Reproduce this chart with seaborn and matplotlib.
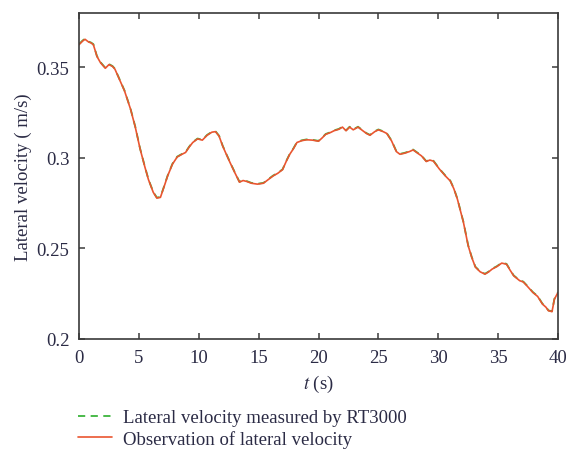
import matplotlib
matplotlib.use("Agg")
import matplotlib.pyplot as plt
import seaborn as sns
import pandas as pd

# Time stamps (s)
t = [0.0, 0.3, 0.5, 0.8, 1.0, 1.2, 1.5, 1.8, 2.2, 2.5, 2.8, 3.0, 3.4, 3.8, 4.3,
     4.7, 5.1, 5.5, 5.8, 6.2, 6.5, 6.8, 7.1, 7.4, 7.8, 8.2, 8.6, 8.9, 9.2, 9.5,
     9.9, 10.3, 10.7, 11.1, 11.4, 11.7, 12.0, 12.3, 12.6, 13.0, 13.4, 13.7, 14.0,
     14.4, 14.9, 15.4, 15.8, 16.2, 16.6, 17.0, 17.3, 17.6, 17.9, 18.2, 18.6, 19.0,
     19.5, 20.0, 20.3, 20.6, 21.0, 21.3, 21.7, 22.0, 22.3, 22.6, 22.9, 23.3, 23.7,
     24.0, 24.3, 24.7, 25.0, 25.4, 25.7, 26.1, 26.5, 26.8, 27.2, 27.6, 27.9, 28.3,
     28.6, 29.0, 29.3, 29.6, 30.1, 30.6, 31.0, 31.3, 31.6, 32.1, 32.5, 32.8, 33.1,
     33.5, 33.9, 34.2, 34.5, 34.9, 35.3, 35.7, 36.0, 36.3, 36.8, 37.1, 37.4, 37.9,
     38.3, 38.7, 39.0, 39.2, 39.5, 39.7, 40.0]

# Lateral velocity measured by the RT3000 (m/s)
v_measured = [0.3628, 0.3648, 0.3658, 0.3642, 0.3637, 0.3628, 0.3562, 0.3528, 0.3497,
              0.3518, 0.3507, 0.3492, 0.3432, 0.3372, 0.3272, 0.3172, 0.3052, 0.2952,
              0.2882, 0.2812, 0.2781, 0.2784, 0.2842, 0.2902, 0.2967, 0.3007, 0.3022,
              0.3032, 0.3062, 0.3087, 0.3107, 0.3100, 0.3127, 0.3144, 0.3147, 0.3122,
              0.3067, 0.3022, 0.2978, 0.2922, 0.2868, 0.2877, 0.2872, 0.2862, 0.2857,
              0.2862, 0.2882, 0.2902, 0.2917, 0.2937, 0.2982, 0.3022, 0.3052, 0.3087,
              0.3097, 0.3102, 0.3100, 0.3094, 0.3112, 0.3132, 0.3142, 0.3152, 0.3160,
              0.3172, 0.3152, 0.3172, 0.3157, 0.3172, 0.3152, 0.3137, 0.3127, 0.3147,
              0.3157, 0.3147, 0.3137, 0.3096, 0.3037, 0.3022, 0.3028, 0.3037, 0.3046,
              0.3027, 0.3013, 0.2982, 0.2990, 0.2984, 0.2940, 0.2902, 0.2875, 0.2832,
              0.2774, 0.2647, 0.2517, 0.2452, 0.2399, 0.2373, 0.2360, 0.2372, 0.2388,
              0.2402, 0.2421, 0.2415, 0.2382, 0.2351, 0.2324, 0.2317, 0.2296, 0.2259,
              0.2237, 0.2195, 0.2177, 0.2158, 0.2153, 0.2222, 0.2259]

# Observed lateral velocity (m/s)
v_observed = [0.3625, 0.3645, 0.3655, 0.3640, 0.3635, 0.3625, 0.3560, 0.3525, 0.3495,
              0.3515, 0.3505, 0.3490, 0.3430, 0.3370, 0.3270, 0.3170, 0.3050, 0.2950,
              0.2880, 0.2810, 0.2778, 0.2782, 0.2840, 0.2900, 0.2965, 0.3005, 0.3020,
              0.3030, 0.3060, 0.3085, 0.3105, 0.3098, 0.3125, 0.3142, 0.3145, 0.3120,
              0.3065, 0.3020, 0.2976, 0.2920, 0.2866, 0.2875, 0.2870, 0.2860, 0.2855,
              0.2860, 0.2880, 0.2900, 0.2915, 0.2935, 0.2980, 0.3020, 0.3050, 0.3085,
              0.3095, 0.3100, 0.3098, 0.3092, 0.3110, 0.3130, 0.3140, 0.3150, 0.3158,
              0.3170, 0.3150, 0.3170, 0.3155, 0.3170, 0.3150, 0.3135, 0.3125, 0.3145,
              0.3155, 0.3145, 0.3135, 0.3094, 0.3035, 0.3020, 0.3026, 0.3035, 0.3044,
              0.3025, 0.3011, 0.2980, 0.2988, 0.2982, 0.2938, 0.2900, 0.2873, 0.2830,
              0.2772, 0.2645, 0.2515, 0.2450, 0.2397, 0.2371, 0.2358, 0.2370, 0.2386,
              0.2400, 0.2419, 0.2413, 0.2380, 0.2349, 0.2322, 0.2315, 0.2294, 0.2257,
              0.2235, 0.2193, 0.2175, 0.2156, 0.2151, 0.2220, 0.2257]

x_ticks = [0, 5, 10, 15, 20, 25, 30, 35, 40]
y_ticks = [0.2, 0.25, 0.3, 0.35]
y_tick_labels = ["0.2", "0.25", "0.3", "0.35"]
label_measured = "Lateral velocity measured by RT3000"
label_observed = "Observation of lateral velocity"

sns.set_style("white")
plt.rcParams["font.family"] = ["Liberation Serif", "DejaVu Serif"]
plt.rcParams["mathtext.fontset"] = "stix"
text_color = "#2b2b45"
spine_color = "#3a3a3a"
fs = 13.5

df = pd.DataFrame({"t": t, "measured": v_measured, "observed": v_observed})

fig = plt.figure(figsize=(5.66, 4.52), dpi=100)
ax = fig.add_axes([79 / 566, 1 - 340 / 452, (558 - 79) / 566, (340 - 14) / 452])

sns.lineplot(data=df, x="t", y="measured", ax=ax, color="#3cb43c",
             linewidth=1.3, linestyle=(0, (4, 3)), label=label_measured)
sns.lineplot(data=df, x="t", y="observed", ax=ax, color="#ea5530",
             linewidth=1.2, label=label_observed)

ax.set_xlim(0, 40)
ax.set_ylim(0.2, 0.38)
ax.set_xticks(x_ticks)
ax.set_xticklabels([str(v) for v in x_ticks])
ax.set_yticks(y_ticks)
ax.set_yticklabels(y_tick_labels)
for axis in ("x", "y"):
    ax.tick_params(axis=axis, which="major", direction="in", length=4.5, width=1.1,
                   top=True, bottom=True, left=True, right=True,
                   labelsize=fs, labelcolor=text_color, color=spine_color, pad=7)
for s in ax.spines.values():
    s.set_color(spine_color)
    s.set_linewidth(1.2)

ax.set_xlabel("$t$ (s)", fontsize=fs, color=text_color, labelpad=5)
ax.set_ylabel("Lateral velocity ( m/s)", fontsize=fs, color=text_color, labelpad=3)

handles, labels = ax.get_legend_handles_labels()
ax.get_legend().remove()
fig.legend(handles, labels, loc="upper left", bbox_to_anchor=(78 / 566, 1 - 410 / 452),
           frameon=False, fontsize=fs, labelcolor=text_color, handlelength=1.8,
           handletextpad=0.6, labelspacing=0.2, borderaxespad=0, borderpad=0)

fig.savefig("out.png", dpi=100)
